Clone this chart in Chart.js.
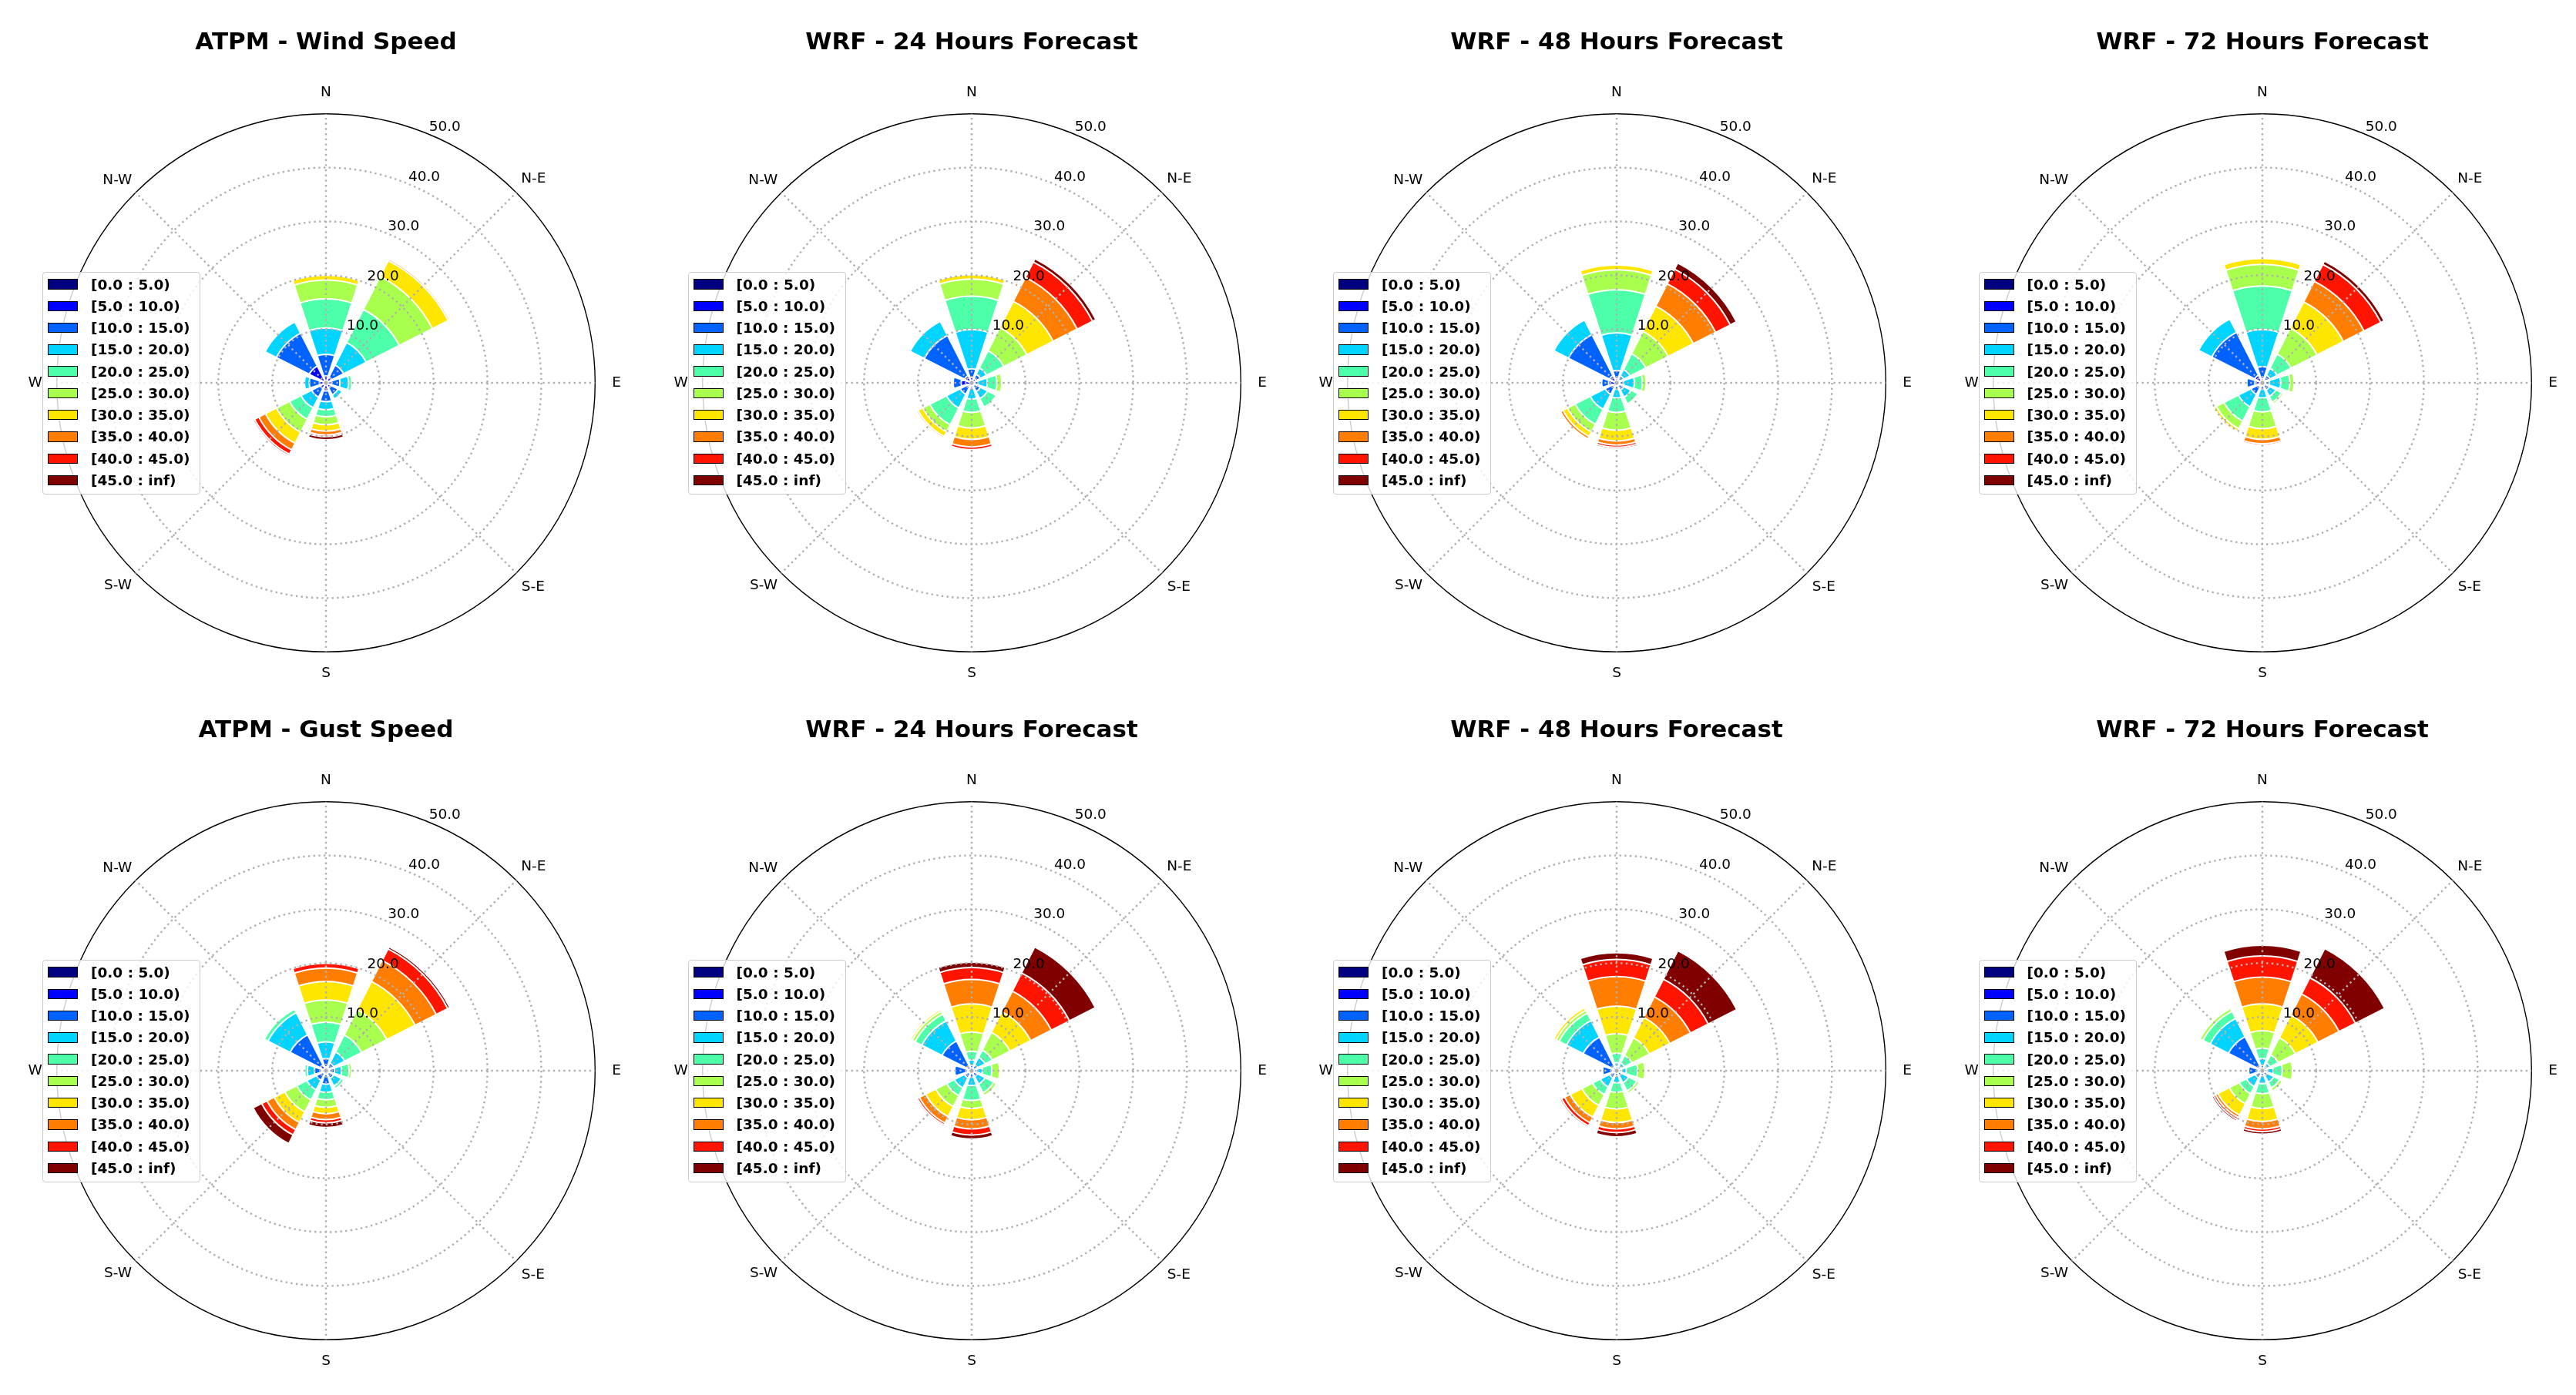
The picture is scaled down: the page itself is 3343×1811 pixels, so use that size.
<!DOCTYPE html>
<html>
<head>
<meta charset="utf-8">
<script src="https://cdn.jsdelivr.net/npm/chart.js@4.4.1/dist/chart.umd.min.js"></script>
<style>
  html, body { margin: 0; padding: 0; background: #fff; }
  body { width: 3343px; height: 1811px; position: relative; overflow: hidden; font-family: 'DejaVu Sans', sans-serif; }
  .panel { position: absolute; width: 860px; height: 885px; }
  .panel canvas { position: absolute; left: 0; top: 0; }
  .legend { position: absolute; left: 62px; top: 352px; box-sizing: border-box; width: 205px; height: 289px;
            border: 1.3px solid #cccccc; border-radius: 4px; background: rgba(255,255,255,0.8); padding-top: 1px; z-index: 2; }
  .legend .row { height: 28.27px; display: flex; align-items: center; }
  .legend .sw { box-sizing: border-box; width: 39px; height: 13.5px; border: 1.5px solid #000; margin-left: 6.4px; flex: none; }
  .legend .tx { margin-left: 16.6px; font: bold 18.5px 'DejaVu Sans'; color: #000; white-space: nowrap; }
</style>
</head>
<body>
<script>
const directions = ['N', 'N-E', 'E', 'S-E', 'S', 'S-W', 'W', 'N-W'];
const speedBins = ['[0.0 : 5.0)', '[5.0 : 10.0)', '[10.0 : 15.0)', '[15.0 : 20.0)', '[20.0 : 25.0)',
                   '[25.0 : 30.0)', '[30.0 : 35.0)', '[35.0 : 40.0)', '[40.0 : 45.0)', '[45.0 : inf)'];
const binColors = ['#000080', '#0000ff', '#0063ff', '#00d4ff', '#4effa9',
                   '#a9ff4e', '#ffe600', '#ff7d00', '#ff1400', '#800000'];
const radialTicks = [0, 10, 20, 30, 40, 50];
const panelTitles = ['ATPM - Wind Speed', 'WRF - 24 Hours Forecast', 'WRF - 48 Hours Forecast', 'WRF - 72 Hours Forecast',
                     'ATPM - Gust Speed', 'WRF - 24 Hours Forecast', 'WRF - 48 Hours Forecast', 'WRF - 72 Hours Forecast'];

// stacked (cumulative) frequency in %, one row per direction (N, N-E, E, S-E, S, S-W, W, N-W),
// one column per speed bin
const atpmWind = [
  [0.3, 1.3, 5.3, 10.2, 15.6, 19.1, 20.0, 20.1, 20.1, 20.1],
  [0.3, 1.2, 3.7, 8.4, 15.3, 22.2, 25.5, 25.8, 25.8, 25.8],
  [0.3, 1.0, 2.6, 4.2, 4.8, 4.9, 4.9, 4.9, 4.9, 4.9],
  [0.3, 1.0, 2.5, 3.4, 3.4, 3.4, 3.4, 3.4, 3.4, 3.4],
  [0.3, 1.5, 3.5, 5.0, 6.3, 7.8, 9.0, 9.7, 10.0, 10.6],
  [0.3, 1.2, 3.0, 5.2, 7.6, 10.3, 12.6, 14.0, 14.9, 15.2],
  [0.3, 1.2, 3.1, 4.0, 4.0, 4.0, 4.0, 4.0, 4.0, 4.0],
  [0.5, 3.5, 10.35, 12.7, 12.7, 12.7, 12.7, 12.7, 12.7, 12.7]
];
const wrf24Wind = [
  [0.2, 1.0, 2.6, 9.9, 16.1, 19.3, 20.1, 20.1, 20.1, 20.1],
  [0.2, 0.9, 1.8, 3.1, 6.7, 11.5, 17.0, 22.0, 25.2, 25.9],
  [0.2, 0.6, 1.2, 2.9, 4.7, 5.6, 5.6, 5.6, 5.6, 5.6],
  [0.2, 0.6, 1.8, 3.3, 5.1, 5.4, 5.4, 5.4, 5.4, 5.4],
  [0.2, 0.6, 1.0, 3.0, 5.5, 8.4, 10.5, 11.9, 12.4, 12.4],
  [0.2, 0.8, 2.4, 5.25, 8.75, 10.2, 11.2, 11.5, 11.6, 11.6],
  [0.3, 1.95, 3.45, 3.45, 3.45, 3.45, 3.45, 3.45, 3.45, 3.45],
  [0.3, 1.5, 9.9, 12.85, 12.85, 12.85, 12.85, 12.85, 12.85, 12.85]
];
const wrf48Wind = [
  [0.2, 0.8, 2.3, 9.3, 17.3, 21.0, 21.9, 21.9, 21.9, 21.9],
  [0.2, 0.7, 1.5, 2.8, 6.1, 10.75, 16.0, 20.65, 23.7, 25.0],
  [0.2, 0.6, 1.3, 3.3, 4.8, 5.5, 5.5, 5.5, 5.5, 5.5],
  [0.2, 0.6, 1.5, 3.0, 4.4, 4.7, 4.7, 4.7, 4.7, 4.7],
  [0.2, 0.6, 1.2, 2.8, 5.5, 8.8, 10.8, 11.55, 12.0, 12.3],
  [0.2, 0.8, 2.4, 5.5, 8.65, 10.25, 11.2, 11.7, 11.7, 11.7],
  [0.3, 1.5, 2.8, 2.8, 2.8, 2.8, 2.8, 2.8, 2.8, 2.8],
  [0.3, 1.5, 10.05, 13.1, 13.1, 13.1, 13.1, 13.1, 13.1, 13.1]
];
const wrf72Wind = [
  [0.2, 0.8, 3.0, 9.9, 18.0, 22.0, 23.1, 23.1, 23.1, 23.1],
  [0.2, 0.7, 1.6, 3.05, 6.0, 11.4, 16.9, 21.2, 24.7, 25.4],
  [0.2, 0.6, 1.3, 3.4, 5.1, 5.9, 5.9, 5.9, 5.9, 5.9],
  [0.2, 0.6, 1.5, 2.8, 4.0, 4.4, 4.4, 4.4, 4.4, 4.4],
  [0.2, 0.6, 1.2, 2.8, 5.4, 8.5, 10.5, 11.3, 11.6, 11.6],
  [0.2, 0.8, 2.4, 5.0, 8.0, 9.6, 10.1, 10.35, 10.4, 10.4],
  [0.3, 1.4, 2.9, 2.9, 2.9, 2.9, 2.9, 2.9, 2.9, 2.9],
  [0.3, 1.6, 10.55, 13.3, 13.3, 13.3, 13.3, 13.3, 13.3, 13.3]
];
const atpmGust = [
  [0.2, 0.7, 2.26, 5.37, 9.03, 13.15, 16.56, 19.07, 19.98, 20.23],
  [0.2, 0.7, 1.6, 3.9, 7.45, 12.7, 18.6, 23.0, 25.4, 25.85],
  [0.2, 0.7, 1.6, 2.9, 4.3, 4.8, 4.8, 4.8, 4.8, 4.8],
  [0.2, 0.6, 1.6, 3.2, 3.75, 3.75, 3.75, 3.75, 3.75, 3.75],
  [0.2, 0.7, 2.5, 4.0, 5.4, 6.8, 8.0, 9.1, 9.7, 10.55],
  [0.2, 0.6, 2.0, 4.0, 6.1, 8.6, 10.8, 12.3, 13.4, 15.2],
  [0.2, 0.8, 2.16, 3.46, 3.96, 3.96, 3.96, 3.96, 3.96, 3.96],
  [0.2, 1.2, 7.5, 12.1, 12.85, 12.85, 12.85, 12.85, 12.85, 12.85]
];
const wrf24Gust = [
  [0.2, 0.5, 1.0, 2.0, 3.6, 7.2, 12.4, 16.96, 19.17, 20.18],
  [0.2, 0.5, 1.2, 2.8, 4.3, 8.0, 12.3, 16.6, 20.4, 25.8],
  [0.2, 0.5, 1.0, 2.0, 3.76, 5.2, 5.47, 5.47, 5.47, 5.47],
  [0.2, 0.5, 1.2, 2.8, 4.6, 5.2, 5.2, 5.2, 5.2, 5.2],
  [0.2, 0.5, 1.2, 2.76, 5.52, 7.03, 9.13, 10.8, 11.95, 12.7],
  [0.2, 0.6, 1.5, 3.6, 5.2, 7.5, 9.6, 10.9, 11.3, 11.55],
  [0.2, 0.8, 3.16, 3.16, 3.16, 3.16, 3.16, 3.16, 3.16, 3.16],
  [0.2, 1.0, 6.2, 10.4, 11.8, 12.4, 12.75, 12.75, 12.75, 12.75]
];
const wrf48Gust = [
  [0.2, 0.4, 0.8, 1.5, 3.26, 6.88, 12.0, 17.5, 20.68, 21.93],
  [0.2, 0.4, 0.9, 1.6, 3.2, 6.85, 11.1, 15.4, 19.1, 25.05],
  [0.2, 0.4, 0.9, 1.8, 3.9, 5.27, 5.5, 5.5, 5.5, 5.5],
  [0.2, 0.4, 1.0, 2.5, 4.2, 4.7, 4.7, 4.7, 4.7, 4.7],
  [0.2, 0.4, 1.0, 2.26, 4.0, 7.13, 9.64, 10.8, 11.5, 12.3],
  [0.2, 0.6, 1.5, 3.4, 5.0, 7.25, 9.7, 10.85, 11.5, 11.8],
  [0.2, 0.8, 2.6, 2.6, 2.6, 2.6, 2.6, 2.6, 2.6, 2.6],
  [0.2, 0.8, 7.0, 10.45, 12.0, 12.6, 13.1, 13.1, 13.1, 13.1]
];
const wrf72Gust = [
  [0.2, 0.4, 1.0, 2.26, 4.17, 7.43, 12.4, 17.4, 21.33, 23.34],
  [0.2, 0.4, 0.9, 1.6, 3.3, 6.9, 11.6, 16.0, 19.4, 25.5],
  [0.2, 0.4, 0.9, 2.0, 3.7, 5.6, 5.8, 5.8, 5.8, 5.8],
  [0.2, 0.4, 1.0, 2.4, 3.6, 4.2, 4.4, 4.4, 4.4, 4.4],
  [0.2, 0.4, 1.0, 2.41, 4.27, 7.03, 9.44, 10.8, 11.3, 11.8],
  [0.2, 0.6, 1.5, 3.3, 4.8, 6.9, 9.3, 9.8, 10.2, 10.55],
  [0.2, 0.8, 2.56, 2.56, 2.56, 2.56, 2.56, 2.56, 2.56, 2.56],
  [0.2, 0.8, 7.1, 10.9, 12.4, 13.0, 13.0, 13.0, 13.0, 13.0]
];
const panelTables = [atpmWind, wrf24Wind, wrf48Wind, wrf72Wind, atpmGust, wrf24Gust, wrf48Gust, wrf72Gust];

// 45 deg sector per direction, bar opening 36 deg, rest is gap split both sides
const SECTOR = 45;
const OPENING = 36;
const GAP = (SECTOR - OPENING) / 2;
// padding of direction labels, by label slot (empty slots sit between directions)
const labelPad = [0, 16.5, 0, 8.8, 0, 22, 0, 9.5, 0, 16.5, 0, 7, 0, 19, 0, 6.5];
const dotted = [2.4, 4.3];
const gridGrey = '#b0b0b0';

const rTickLabels = {
  id: 'rTickLabels',
  afterDraw(chart) {
    const scale = chart.scales.r;
    const ctx = chart.ctx;
    ctx.save();
    ctx.font = '18.5px "DejaVu Sans"';
    ctx.fillStyle = '#000';
    ctx.textAlign = 'left';
    ctx.textBaseline = 'alphabetic';
    scale.ticks.forEach(t => {
      if (t.value <= 0) return;
      // slot 2 is the 22.5 deg direction, where the radius labels sit
      const p = scale.getPointPositionForValue(2, t.value);
      ctx.fillText(t.value.toFixed(1), p.x, p.y - 4.2);
    });
    ctx.restore();
  }
};

const htmlLegend = {
  id: 'htmlLegend',
  afterUpdate(chart, args, opts) {
    const box = document.getElementById(opts.containerID);
    box.innerHTML = '';
    chart.options.plugins.legend.labels.generateLabels(chart).forEach(item => {
      const row = document.createElement('div');
      row.className = 'row';
      const sw = document.createElement('div');
      sw.className = 'sw';
      sw.style.background = item.fillStyle;
      const tx = document.createElement('div');
      tx.className = 'tx';
      tx.textContent = item.text;
      row.appendChild(sw);
      row.appendChild(tx);
      box.appendChild(row);
    });
  }
};

panelTables.forEach((table, idx) => {
  const col = idx % 4;
  const rowNo = Math.floor(idx / 4);
  const cx = 423 + 837.5 * col;

  const panel = document.createElement('div');
  panel.className = 'panel';
  panel.style.left = (cx - 430) + 'px';
  panel.style.top = (893 * rowNo + 1) + 'px';
  const canvas = document.createElement('canvas');
  canvas.width = 860;
  canvas.height = 885;
  const legendBox = document.createElement('div');
  legendBox.className = 'legend';
  legendBox.id = 'legend' + idx;
  panel.appendChild(canvas);
  panel.appendChild(legendBox);
  document.body.appendChild(panel);

  const labels = [];
  directions.forEach(d => { labels.push(''); labels.push(d); });

  const datasets = speedBins.map((bin, k) => ({
    label: bin,
    data: table.flatMap(row => [0, row[k], 0]),
    backgroundColor: binColors[k],
    borderColor: '#ffffff',
    borderWidth: ctx => ctx.dataIndex % 3 === 1 ? 2 : 0,
    angle: ctx => ctx.dataIndex % 3 === 1 ? OPENING : GAP
  }));

  new Chart(canvas, {
    type: 'polarArea',
    data: { labels: labels, datasets: datasets },
    options: {
      responsive: false,
      animation: false,
      events: [],
      layout: { padding: 0 },
      scales: {
        r: {
          min: 0,
          max: 50,
          startAngle: -SECTOR / 2,
          afterBuildTicks: scale => { scale.ticks = radialTicks.map(v => ({ value: v })); },
          ticks: { display: false },
          grid: {
            z: 1,
            circular: true,
            color: ctx => ctx.tick.value === 50 ? '#000000' : gridGrey,
            lineWidth: ctx => ctx.tick.value === 50 ? 1.4 : 2.4
          },
          border: { dash: ctx => (ctx.tick && ctx.tick.value === 50) ? [] : dotted },
          angleLines: {
            display: true,
            color: gridGrey,
            lineWidth: ctx => ctx.index % 2 ? 2.4 : 0,
            borderDash: dotted
          },
          pointLabels: {
            display: true,
            color: '#000',
            font: { family: 'DejaVu Sans', size: 18.5, lineHeight: 1.2 },
            padding: ctx => labelPad[ctx.index]
          }
        }
      },
      plugins: {
        title: {
          display: true,
          text: panelTitles[idx],
          color: '#000',
          font: { family: 'DejaVu Sans', size: 31, weight: 'bold', lineHeight: 1.2 },
          padding: { top: 36.8, bottom: 34 }
        },
        legend: {
          display: false,
          labels: {
            generateLabels: ch => ch.data.datasets.map((ds, i) => ({
              text: ds.label, fillStyle: ds.backgroundColor, strokeStyle: '#000', datasetIndex: i
            }))
          }
        },
        htmlLegend: { containerID: 'legend' + idx },
        tooltip: { enabled: false }
      }
    },
    plugins: [rTickLabels, htmlLegend]
  });
});
</script>
</body>
</html>
